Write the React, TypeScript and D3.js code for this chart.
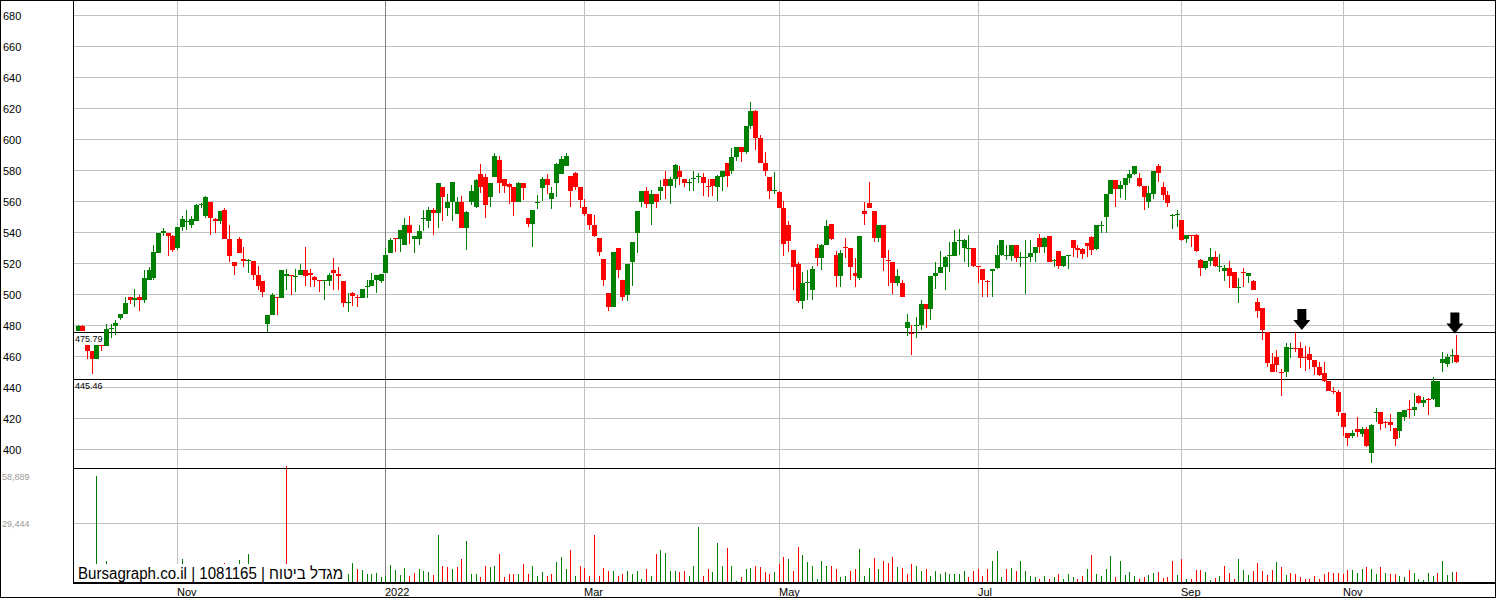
import React from "react";
import * as d3 from "d3";

// ---- DATA (index = trading day, Oct 2021 .. Dec 2022) ----
const open = [
477,480,468,464,459,468,467,478,480,485,488,499,497,498.5,497,510,511,527,540,540,
538,530,544,547,545,548,558,551,560,549,548,555,536,521,536,523,522,522,513,509,
481,487,499,498,512,513,512,513,516,514,511.5,510,509,509,516,513.5,509,495,501,499,
498,505,506,510,509,514,527,537,536,532,545,536,536,549,548,555,553,570,556,560,
552,560,543,560,557,578,576,563,576,587,575,571.6,570,560,572,550,546,559.6,569,575,
562,572,578,583,577,579,570,557,552,545,537,523,501,492,530,510,500,521,540,560,
567,559,565,567,575,570.5,575,580,575,572,575,576,576,570.6,575,570,576,585,580,589,
595.5,592.5,609,619,601.5,585,576,567,566.6,556,545,529,520,496,508,503,530,524,532,546,
526,512,531,530,514,511,554,559.6,554,537,545,522.5,521,508,508,478.5,475.7,480,480.6,494,
491,512,514.4,518,525,525,534.8,530.5,530,530,518.7,517,509.2,515.5,517.6,525.8,525,525,532,524,
524,524.7,527.3,537,531,538,522,528.4,518.7,525,535.5,530,529.5,533.3,537.6,529.7,544.8,550.5,565.2,574,
568.4,571,575.3,578,575.3,570.3,560.2,565,583,570,564.5,551.3,552,548.4,536,538.9,538.7,522.6,517.2,522,
524.7,518.7,515.5,517.2,515,504.8,514.6,512.5,509,495.7,491.4,476,455.3,460,450.3,450.5,465.5,466.1,466,460.3,
462,458,453.4,449.7,444.4,438.2,437.3,424,411,409.3,413.6,410.4,413.6,398,424.2,424.4,418,417.8,414,412.1,
421.1,426.3,425.9,435.1,430.2,433.2,433,428,456,455.6,460.9,461
];
const high = [
480.5,480.5,468,464,468,468,481,481,484,488,499,499,504,500,516,518,532,540,543,540,
539,544,551,555,551,559,559.5,564,560,550,554,556,545,521,537.5,531,523,522,519,509,
487,501,499,516,517,513,516.5,520,531,517,512,510,510,514,524,518,509,501,502,500,
504,510,514,513,513.5,530,537,537,542,549.5,551,538,545,555,557,556,572,570,565,573,
563,564,554,571,575,584.5,578,572,591.4,590,575,572,570,573,572,550,555,564.5,576,578,
570,585,590,591.4,577,579.4,570,562,552,551.6,537,523,501,528,530,510,520,534,554,567,
570,568,565,574,580,576,584.5,583,575,575,580,579,579,575,575,577.4,580,585,595,595.5,
595.5,609,624.7,619.3,603,592.5,576,579.6,567,560.6,548,529,521,515,516,519,533,533,548.4,546,
528.6,529,537,530,524,538,560,572.7,554,545,545,529,521,517,510,488,480.6,486,496.8,494,
512,521,528.6,525,534.5,542,542.6,536,538.7,530,519,517,509.5,517,532,535.5,532,532,532,528,
535.5,535.5,531,539.4,537.2,538,523,528.4,525.2,525.5,535.5,532,530,533.5,538,545.2,547.7,565.2,574.5,574.2,
573.8,575.3,580.6,583.2,578.5,570.5,570.3,580,584.5,572.7,567,552,555,548.4,539,539,539.4,523,522,530.5,
528.4,526.4,519.4,522,515,510.7,517.2,514.4,509.6,497.8,491.4,476,462.3,464.5,452,469.2,469,476.4,469.5,467.4,
466.7,458,456.6,456.6,444.4,440.9,438.8,424,411,413,421.6,415,414.7,417,427.2,424.4,418.5,423.3,414,424.8,
426.1,432.3,436.6,435.5,434,433.5,447.4,444.5,463,462,465.2,473.9
];
const low = [
477,477,459,449,459,464,467,472,474,484,488,494,492,490,495,510,510,527,538,525,
528,529,541,542,543,548,556,550,539,540,546,536,521,513,527,518,514,510,503,499,
476,487,487,498,503,500,502,513,506,505,505,502,497,506,503,503,492,489,493,492,
498,498,506,501,508,514,527,528,528,532,533,527,532,541,543,539,543,548,551,548,
552,543,529,558,556,566,550,557,576,566,565.6,558.5,551,560,561,543.6,531,555.5,560.6,565,
555.5,563,578,583,557,567.7,556,551,542,537.6,525,506,490,492,511,496,496,506,527,557,
556,545,556,561,562,559,569,571,570,567,567,572,564,563.4,564,560.6,567,570,578,586.6,
586,591,607,593.5,585,577,562,565,556,525,528,503,495,491,497,497,519,516,532,535.5,
505,505,523.6,510,505,510,545,556,534,534,515.5,506,500.6,506,499,473.8,461,472,477.6,478.5,
484,503.7,514,503,515,525,526,521.5,518,518,508,499,499,499,517,525,522.6,522,521,518,
500.6,521,521,527,527,521,518,517,518,516.5,524.3,524,523,524.7,526,529,540,540,565,557,
562.8,561.3,572.5,577.5,570,555,556,562,573,561,557,542.6,544,535,533.7,531,528,512,516,518.7,
517.8,515,509,504.3,504.7,495,505,507.5,503,485,471,453.3,450,450.5,435,447.3,459.4,463,452.8,450.8,
452.3,448.6,448,444,438,436.2,422.2,409.3,402.4,408,408.2,408.7,402,391.5,417.9,413.2,414,412.5,402.4,407.6,
418.5,420.7,422.2,430,427.6,422.8,432,428,450.2,453.8,456,456
];
const close = [
480,477,464,459,468,467,478,479,482,488,495,497,498,497,511,516,528,540,541,538,
529,544,549,548,549,558,559,563,550,547.5,554,536,525,518.5,527,522,522.5,513,506,502,
487,500,498.5,516,513.5,512,512.5,516,512,513,510,509,509.5,513,514,512.5,495,495.5,499.5,498,
504,506,510,512.6,513.3,526,535.5,536,542,545,540,538,541,550,555,553,572,563,560,573,
560,543,553.5,567,574,569.5,558,572,590,572,570.5,570,560,572,569,546,555,560,575,571,
566,584.5,588,590,567,570,561,552,545,538,528,510,492,528,516,499,520,534,554,567,
559,565,560,570,570.5,575,584,576,572.5,573,575.5,576.5,572,569.5,570.2,577,580,577,589,595.5,
592.5,609,619,601.5,585,580,567,567.5,556.4,533,535,518,496,508,508.5,517,524,532,544.5,536,
512,527,530.5,518,512,538,552,556.4,537,545,524,522,508,512,499,482.4,474.6,480.6,494,491,
512,514.4,518,524.7,525.5,534.4,535.3,535.5,530.5,518.7,518.3,510,509,517,525.8,535.5,525.5,532,524,524.5,
524.8,527,531,530.8,537,521.5,522.6,518.7,525,525.5,530,529,526.5,531.6,529,545,545.2,565,574.2,568.4,
571,575.3,578,583.2,570.3,563.4,565.6,580,579,564.5,559.6,551.6,552.3,535.5,538.7,538.5,528.6,517.2,522,524.7,
518.7,519,517.2,512.5,504.8,505,514.2,514.4,503.2,489.7,477.6,456,450.5,455,450,466.7,465.9,465.7,459.4,459.2,
458.3,453.4,448.6,444.8,438.3,437.9,424.4,415,407.8,411,411.9,413.6,402.4,416.4,424.6,416.8,417.2,416.4,407.2,424.8,
426.1,426,428,430.2,432.5,432.9,444.8,444.2,458.8,460.3,461.3,456.6
];
const volume = [
0,0,0,0,54000,0,10900,0,0,0,0,0,0,0,0,0,0,0,0,0,
0,0,11900,0,0,0,0,0,0,0,0,9700,0,0,11400,0,14400,0,0,0,
0,0,0,0,58889,0,0,0,0,0,0,0,0,0,0,0,0,
4150,9870,6830,6330,4300,4300,4650,2940,3440,8850,6330,3800,7340,3440,4650,6830,5820,5310,3800,24000,
8100,7600,6580,7600,11640,20750,4050,4550,2530,8600,7600,8600,14170,2530,4050,4550,4550,9110,4550,8600,
3540,5060,3540,4550,10120,12650,6580,16200,3040,8100,7090,3540,23790,3040,7090,6070,6070,3040,4050,6070,
4050,6070,2020,6580,3040,14170,16200,14680,6070,6070,5060,6070,3040,8100,27840,3540,6580,5060,19740,8100,
17210,8600,1010,2530,6580,7090,8600,7600,5060,4550,
5060,9110,12650,11640,5570,17710,13660,10120,8100,2020,11130,8600,8100,6580,2530,3540,6070,6580,16700,3040,
7090,12150,6580,10630,9620,12650,7590,7090,4550,9110,8100,5570,6580,3040,6070,4550,5060,4550,4550,4550,
6070,2530,6070,6580,3040,6580,10630,15690,2530,6580,7090,6070,10630,6070,3540,2530,2020,3040,2020,2530,
4550,1520,4550,2530,2020,3040,6580,13660,4550,3100,
6730,13460,2830,10930,3700,5400,3190,1670,2830,3700,4860,5400,2330,2830,10930,3700,11800,1670,1670,6560,
6220,5200,1160,2330,3190,8250,4860,1670,11800,6220,3700,5720,9920,5720,3700,6560,10270,7740,3700,4860,
4200,2530,2020,1520,3190,1520,4200,5200,4860,4860,4200,6220,6220,4860,6730,7900,6730,4550,7900,4860,
4050,4550,3190,2530,6220,4860,2020,1160,4860,3190,4860,11130,3700,5400,5400
];
const monthTickIndex = [21, 65, 107, 148, 190, 233, 267];
const monthTickLabel = ["Nov", "2022", "Mar", "May", "Jul", "Sep", "Nov"];
const yearTick = "2022";
const priceTicks = [400, 420, 440, 460, 480, 500, 520, 540, 560, 580, 600, 620, 640, 660, 680];
const volumeTicks = [29444, 58889];
const levels = [475.79, 445.46];
const arrowIndex = [258.4, 290.7];
const arrowPrice = [477.5, 475.2];
const watermark = "Bursagraph.co.il | 1081165 | מגדל ביטוח";

const GREEN = "#008000";
const RED = "#ff0000";
const GRID = "#c0c0c0";
const FONT = "Arial, 'Liberation Sans', sans-serif";

export default function App() {
  const W = 1496;
  const H = 598;
  const left = 73;
  const right = 1495;
  const priceBottom = 468;
  const volBottom = 582;

  const n = close.length;
  const x = d3.scaleLinear().domain([0, n - 1]).range([77.5, 1456.3]);
  const y = d3.scaleLinear().domain([400, 680]).range([450, 16]);
  const yv = d3.scaleLinear().domain([0, 58889]).range([582.5, 466.1]);

  const idx = d3.range(n);

  return (
    <svg
      width={W}
      height={H}
      style={{ position: "absolute", left: 0, top: 0, background: "#fff" }}
      shapeRendering="crispEdges"
    >
      <rect x={0} y={0} width={W} height={H} fill="#fff" />
      {/* horizontal price grid */}
      {priceTicks.map((t) => (
        <line key={"pg" + t} x1={left} x2={right} y1={Math.round(y(t)) - 0.5} y2={Math.round(y(t)) - 0.5} stroke={GRID} />
      ))}
      {/* volume grid */}
      <line x1={left} x2={right} y1={Math.round(yv(volumeTicks[0])) - 0.5} y2={Math.round(yv(volumeTicks[0])) - 0.5} stroke={GRID} />
      {/* vertical month grid */}
      {monthTickIndex.map((mi, k) => {
        const gx = Math.round(x(mi)) + 0.5;
        return (
          <line key={"vg" + k} x1={gx} x2={gx} y1={0} y2={volBottom} stroke={monthTickLabel[k] === yearTick ? "#808080" : GRID} />
        );
      })}
      {/* level lines */}
      {levels.map((lv) => (
        <line key={"lv" + lv} x1={left} x2={right} y1={Math.round(y(lv)) - 0.5} y2={Math.round(y(lv)) - 0.5} stroke="#000" />
      ))}
      {levels.map((lv) => (
        <text key={"lvt" + lv} x={75} y={Math.round(y(lv)) + 9} fontFamily={FONT} fontSize={9} fill="#000">
          {lv.toFixed(2)}
        </text>
      ))}
      {/* candles */}
      {idx.map((i) => {
        const o = open[i], c = close[i], h = high[i], l = low[i];
        const col = c >= o ? GREEN : RED;
        const cx = Math.round(x(i));
        const yh = Math.round(y(h));
        const yl = Math.round(y(l));
        const yt = Math.round(y(Math.max(o, c)));
        const yb = Math.round(y(Math.min(o, c)));
        return (
          <g key={"c" + i}>
            <rect x={cx} y={yh} width={1} height={Math.max(1, yl - yh)} fill={col} />
            <rect x={cx - 2} y={yt} width={5} height={Math.max(1, yb - yt)} fill={col} />
          </g>
        );
      })}
      {/* volume bars */}
      {idx.map((i) => {
        const v = volume[i];
        if (!v) return null;
        const up = i === 0 ? true : close[i] >= close[i - 1];
        const cx = Math.round(x(i));
        const top = Math.round(yv(v));
        return <rect key={"v" + i} x={cx} y={top} width={1} height={volBottom - top} fill={up ? GREEN : RED} />;
      })}
      {/* watermark */}
      <rect x={left + 1} y={564} width={273} height={volBottom - 564} fill="#fff" />
      <text
        x={78}
        y={579}
        fontFamily={FONT}
        fontSize={16}
        fill="#000"
        textLength={265}
        lengthAdjust="spacingAndGlyphs"
        shapeRendering="auto"
      >
        {watermark}
      </text>
      {/* frame & axes */}
      <line x1={left + 0.5} x2={left + 0.5} y1={0} y2={volBottom + 1} stroke="#000" />
      <line x1={left} x2={right} y1={priceBottom + 0.5} y2={priceBottom + 0.5} stroke="#000" />
      <line x1={left} x2={right} y1={volBottom + 1} y2={volBottom + 1} stroke="#000" strokeWidth={2} />
      <rect x={0.5} y={0.5} width={1495} height={597} fill="none" stroke="#000" />
      {/* price labels */}
      {priceTicks.map((t) => (
        <text key={"pl" + t} x={3} y={y(t)} dy="0.35em" fontFamily={FONT} fontSize={11} fill="#000">
          {t}
        </text>
      ))}
      {/* volume labels */}
      {volumeTicks.map((t) => {
        const ty = Math.max(yv(t), priceBottom + 9);
        return (
          <text key={"vl" + t} x={2} y={ty} dy="0.35em" fontFamily={FONT} fontSize={9} fill="#9a9a9a">
            {d3.format(",")(t)}
          </text>
        );
      })}
      {/* month labels */}
      {monthTickIndex.map((mi, k) => (
        <text key={"ml" + k} x={Math.round(x(mi))} y={596} fontFamily={FONT} fontSize={11} fill="#000">
          {monthTickLabel[k]}
        </text>
      ))}
      {/* arrows */}
      {arrowIndex.map((ai, k) => {
        const ax = x(ai);
        const ty = y(arrowPrice[k]);
        const p = d3.path();
        p.moveTo(ax - 4.5, ty - 21);
        p.lineTo(ax + 4.5, ty - 21);
        p.lineTo(ax + 4.5, ty - 10);
        p.lineTo(ax + 8.5, ty - 10);
        p.lineTo(ax, ty);
        p.lineTo(ax - 8.5, ty - 10);
        p.lineTo(ax - 4.5, ty - 10);
        p.closePath();
        return <path key={"a" + k} d={p.toString()} fill="#000" shapeRendering="auto" />;
      })}
    </svg>
  );
}
